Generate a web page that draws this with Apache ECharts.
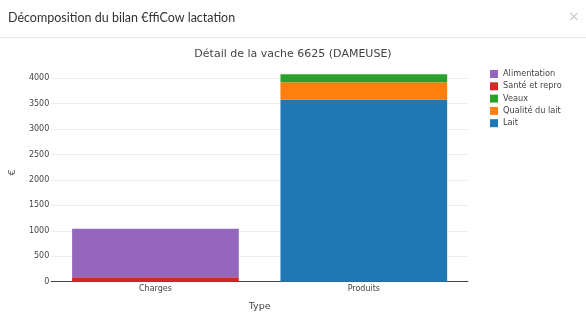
<!DOCTYPE html>
<html>
<head>
<meta charset="utf-8">
<script src="https://cdn.jsdelivr.net/npm/echarts@6/dist/echarts.min.js"></script>
<style>
html,body{margin:0;padding:0;background:#fff;}
#c{width:586px;height:318px;}
</style>
</head>
<body>
<div id="c"></div>
<script>
const categories = ['Charges', 'Produits'];
const seriesNames = ['Lait', 'Qualité du lait', 'Veaux', 'Santé et repro', 'Alimentation'];
const lait = [0, 3580];
const qualite = [0, 340];
const veaux = [0, 155];
const sante = [85, 0];
const alimentation = [955, 0];
const seriesColors = ['#1f77b4', '#ff7f0e', '#2ca02c', '#d62728', '#9467bd'];
const legendOrder = ['Alimentation', 'Santé et repro', 'Veaux', 'Qualité du lait', 'Lait'];

const values = [lait, qualite, veaux, sante, alimentation];
const FONT = 'DejaVu Sans';
const chart = echarts.init(document.getElementById('c'), null, {renderer: 'canvas'});
chart.setOption({
  animation: false,
  title: [
    {text: 'Décomposition du bilan €ffiCow lactation', left: 8, top: 11, padding: 0,
     textStyle: {fontFamily: 'Lato', fontSize: 12.5, fontWeight: 'normal', color: '#333'}},
    {text: 'Détail de la vache 6625 (DAMEUSE)', left: 'center', top: 44,
     textStyle: {fontFamily: FONT, fontSize: 11, fontWeight: 'normal', color: '#444'}}
  ],
  graphic: [
    {type: 'line', shape: {x1: 0, y1: 37.5, x2: 586, y2: 37.5}, style: {stroke: '#e5e5e5', lineWidth: 1}},
    {type: 'text', left: 568, top: 10, style: {text: '×', fontSize: 14, fontFamily: 'DejaVu Sans', fill: '#c8c8c8'}}
  ],
  legend: {
    orient: 'vertical', left: 485, top: 65,
    data: legendOrder,
    icon: 'rect', itemWidth: 8, itemHeight: 8, itemGap: 4.3,
    textStyle: {fontFamily: FONT, fontSize: 8.2, color: '#444', padding: [0, 0, 0, 0]}
  },
  grid: {left: 46, right: 118, top: 63.4, bottom: 36.3},
  xAxis: {
    type: 'category', data: categories,
    name: 'Type', nameLocation: 'middle', nameGap: 20,
    nameTextStyle: {fontFamily: FONT, fontSize: 9.5, color: '#444'},
    axisLine: {lineStyle: {color: '#444', width: 1}},
    axisTick: {show: false},
    axisLabel: {fontFamily: FONT, fontSize: 8, color: '#444', margin: 3}
  },
  yAxis: {
    type: 'value', min: 0, max: 4290, interval: 500,
    name: '€', nameLocation: 'middle', nameGap: 24, nameRotate: 90,
    nameTextStyle: {fontFamily: FONT, fontSize: 9.5, color: '#444'},
    axisLine: {show: false}, axisTick: {show: false},
    axisLabel: {fontFamily: FONT, fontSize: 8, color: '#444', margin: 2,
      formatter: v => (v % 500 === 0 ? String(v) : '')},
    splitLine: {showMaxLine: false, lineStyle: {color: '#eeeeee', width: 1}}
  },
  series: seriesNames.map((n, i) => ({
    name: n, type: 'bar', stack: 'total', data: values[i],
    barWidth: '80%',
    itemStyle: {color: seriesColors[i]}
  }))
});
</script>
</body>
</html>
